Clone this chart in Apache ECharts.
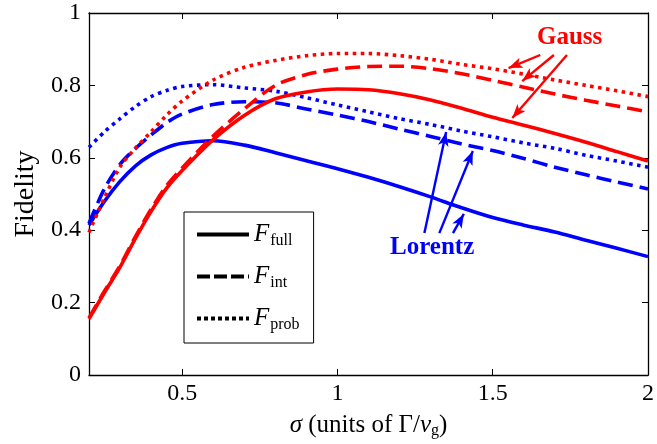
<!DOCTYPE html>
<html>
<head>
<meta charset="utf-8">
<script src="https://cdn.jsdelivr.net/npm/echarts@6/dist/echarts.min.js"></script>
<style>
  html, body { margin: 0; padding: 0; background: #fff; }
  #main { width: 657px; height: 444px; }
</style>
</head>
<body>
<div id="main"></div>
<script>
// sigma values (units of Gamma/v_g)
var sigma = [0.2, 0.25, 0.3, 0.35, 0.4, 0.45, 0.5, 0.6, 0.7, 0.8, 0.9, 1.0, 1.1, 1.2, 1.3, 1.4, 1.5, 1.6, 1.7, 1.8, 1.9, 2.0];

// Lorentz (blue)
var lorFull = [0.414, 0.48, 0.535, 0.578, 0.608, 0.628, 0.640, 0.647, 0.635, 0.614, 0.592, 0.570, 0.546, 0.520, 0.492, 0.462, 0.435, 0.414, 0.395, 0.372, 0.350, 0.327];
var lorInt  = [0.419, 0.515, 0.582, 0.626, 0.663, 0.697, 0.721, 0.747, 0.755, 0.752, 0.735, 0.718, 0.700, 0.679, 0.659, 0.638, 0.620, 0.598, 0.574, 0.553, 0.533, 0.514];
var lorProb = [0.629, 0.672, 0.708, 0.742, 0.769, 0.786, 0.797, 0.802, 0.793, 0.784, 0.766, 0.746, 0.727, 0.708, 0.692, 0.674, 0.658, 0.641, 0.626, 0.607, 0.591, 0.574];

// Gauss (red)
var gauFull = [0.155, 0.228, 0.298, 0.378, 0.452, 0.516, 0.565, 0.650, 0.717, 0.763, 0.782, 0.790, 0.788, 0.777, 0.760, 0.737, 0.712, 0.690, 0.667, 0.643, 0.617, 0.591];
var gauInt  = [0.158, 0.232, 0.302, 0.383, 0.458, 0.523, 0.572, 0.660, 0.735, 0.800, 0.830, 0.845, 0.852, 0.853, 0.846, 0.832, 0.814, 0.795, 0.776, 0.759, 0.743, 0.727];
var gauProb = [0.394, 0.49, 0.575, 0.627, 0.672, 0.718, 0.757, 0.815, 0.850, 0.869, 0.882, 0.888, 0.888, 0.882, 0.872, 0.858, 0.846, 0.831, 0.815, 0.800, 0.785, 0.769];

var xTicks = [0.5, 1, 1.5, 2];

// annotation arrows [x0, y0, x1, y1] in data units, tip at the end
var gaussArrows = [[1.653, 0.884, 1.551, 0.848], [1.697, 0.884, 1.595, 0.812], [1.739, 0.884, 1.563, 0.710]];
var lorentzArrows = [[1.280, 0.392, 1.350, 0.671], [1.328, 0.392, 1.436, 0.619], [1.372, 0.392, 1.407, 0.445]];

var RED = '#ff0000';
var BLUE = '#0000ff';
var SERIF = 'Liberation Serif';
var DOT = [3.5, 4.5];
var DASH = [15, 7];

function pairs(ys) {
    return sigma.map(function (x, i) { return [x, ys[i]]; });
}
function curve(data, color, type) {
    return {
        type: 'line',
        data: pairs(data),
        smooth: 0.3,
        symbol: 'none',
        silent: true,
        lineStyle: { color: color, width: 3.6, type: type, cap: 'butt' },
        z: 3
    };
}
function arrows(list, color) {
    return {
        type: 'line',
        data: [],
        symbol: 'none',
        markLine: {
            silent: true,
            symbol: ['none', 'arrow'],
            symbolSize: [8, 14],
            label: { show: false },
            lineStyle: { color: color, width: 2.4, type: 'solid' },
            data: list.map(function (a) {
                return [{ coord: [a[0], a[1]] }, { coord: [a[2], a[3]] }];
            })
        }
    };
}
function legendSeries(name, type) {
    return {
        name: name,
        type: 'line',
        data: [],
        symbol: 'none',
        itemStyle: { color: '#000' },
        lineStyle: { color: '#000', width: 4, type: type }
    };
}

var chart = echarts.init(document.getElementById('main'));
var option = {
    animation: false,
    grid: { left: 89, right: 3, top: 13, bottom: 69 },
    legend: {
        orient: 'vertical',
        left: 184,
        top: 212,
        itemWidth: 52,
        itemHeight: 14,
        itemGap: 15,
        padding: [10, 14, 10, 11],
        borderColor: '#000',
        borderWidth: 1,
        backgroundColor: '#fff',
        selectedMode: false,
        itemStyle: { opacity: 0 },
        lineStyle: { width: 4 },
        data: ['full', 'int', 'prob'],
        formatter: function (n) { return '{f|F}{s|' + n + '}'; },
        textStyle: {
            rich: {
                f: { fontFamily: SERIF, fontStyle: 'italic', fontSize: 25, color: '#000', padding: [0, 1, 0, 0] },
                s: { fontFamily: SERIF, fontSize: 16, color: '#000', padding: [13, 0, 0, 0] }
            }
        }
    },
    graphic: [
        { type: 'text', left: 537, top: 25, style: { text: 'Gauss', fill: RED, font: 'bold 25px "Liberation Serif"' } },
        { type: 'text', left: 390, top: 235, style: { text: 'Lorentz', fill: BLUE, font: 'bold 25px "Liberation Serif"' } }
    ],
    xAxis: [{
        type: 'value',
        min: 0.2,
        max: 2,
        name: '{i|σ} (units of Γ/{i|v}{sub|g})',
        nameLocation: 'middle',
        nameGap: 36,
        nameTextStyle: {
            fontFamily: SERIF, fontSize: 25, color: '#000',
            rich: {
                i: { fontFamily: SERIF, fontStyle: 'italic', fontSize: 25, color: '#000' },
                sub: { fontFamily: SERIF, fontSize: 16, color: '#000', padding: [12, 0, 0, 0] }
            }
        },
        axisLine: { onZero: false, lineStyle: { color: '#000', width: 1.3 } },
        axisTick: { inside: true, length: 6, customValues: xTicks, lineStyle: { color: '#000' } },
        axisLabel: { customValues: xTicks, fontFamily: SERIF, fontSize: 24, color: '#000', margin: 7 },
        splitLine: { show: false }
    }, {
        type: 'value',
        position: 'top',
        min: 0.2,
        max: 2,
        axisLine: { show: true, onZero: false, lineStyle: { color: '#000', width: 1.3 } },
        axisTick: { inside: true, length: 6, customValues: xTicks, lineStyle: { color: '#000' } },
        axisLabel: { show: false },
        splitLine: { show: false }
    }],
    yAxis: [{
        type: 'value',
        min: 0,
        max: 1,
        interval: 0.2,
        name: 'Fidelity',
        nameLocation: 'middle',
        nameGap: 49,
        nameTextStyle: { fontFamily: SERIF, fontSize: 28, color: '#000' },
        axisLine: { show: true, onZero: false, lineStyle: { color: '#000', width: 1.3 } },
        axisTick: { inside: true, length: 6, lineStyle: { color: '#000' } },
        axisLabel: {
            fontFamily: SERIF, fontSize: 24, color: '#000', margin: 8,
            formatter: function (v) { return String(+v.toFixed(1)); }
        },
        splitLine: { show: false }
    }, {
        type: 'value',
        position: 'right',
        min: 0,
        max: 1,
        interval: 0.2,
        axisLine: { show: true, onZero: false, lineStyle: { color: '#000', width: 1.3 } },
        axisTick: { inside: true, length: 6, lineStyle: { color: '#000' } },
        axisLabel: { show: false },
        splitLine: { show: false }
    }],
    series: [
        curve(lorFull, BLUE, 'solid'),
        curve(lorInt, BLUE, DASH),
        curve(lorProb, BLUE, DOT),
        curve(gauFull, RED, 'solid'),
        curve(gauInt, RED, DASH),
        curve(gauProb, RED, DOT),
        arrows(gaussArrows, RED),
        arrows(lorentzArrows, BLUE),
        legendSeries('full', 'solid'),
        legendSeries('int', [13, 4]),
        legendSeries('prob', [4, 3])
    ]
};
chart.setOption(option);
</script>
</body>
</html>
